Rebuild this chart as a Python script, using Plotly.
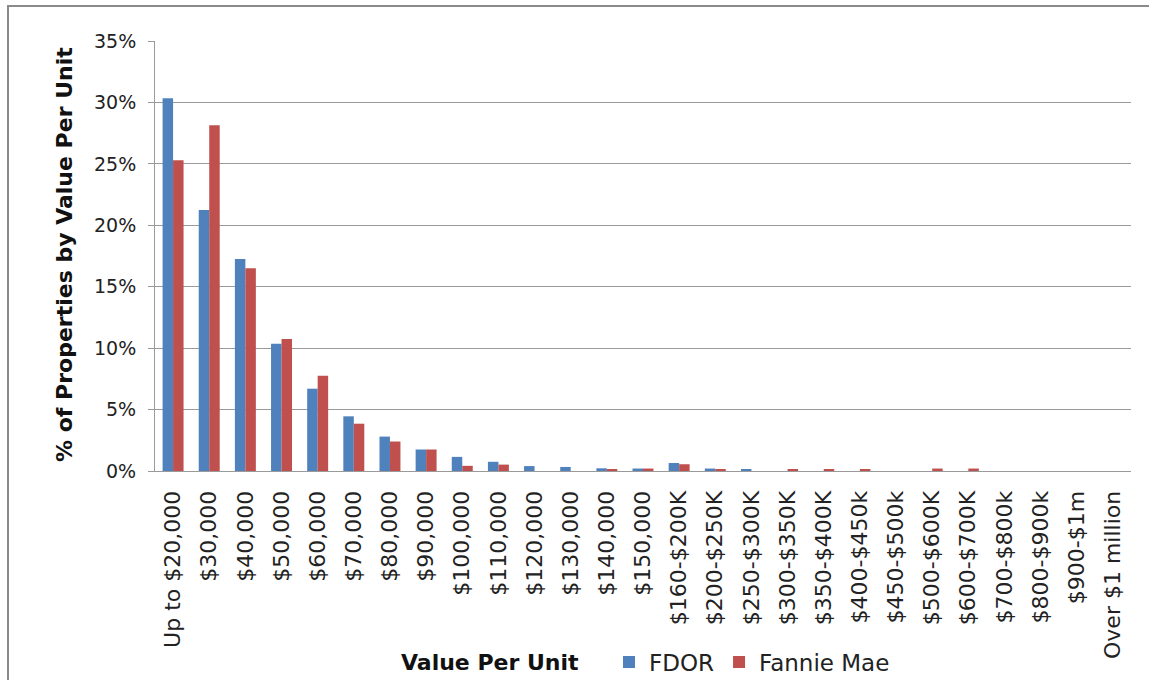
import plotly.graph_objects as go

categories = [
    "Up to $20,000", "$30,000", "$40,000", "$50,000", "$60,000", "$70,000",
    "$80,000", "$90,000", "$100,000", "$110,000", "$120,000", "$130,000",
    "$140,000", "$150,000", "$160-$200K", "$200-$250K", "$250-$300K",
    "$300-$350K", "$350-$400K", "$400-$450k", "$450-$500k", "$500-$600K",
    "$600-$700K", "$700-$800k", "$800-$900k", "$900-$1m", "Over $1 million",
]
fdor = [30.35, 21.25, 17.25, 10.35, 6.7, 4.45, 2.8, 1.75, 1.15, 0.75, 0.4, 0.33,
        0.22, 0.2, 0.65, 0.2, 0.1, 0, 0, 0, 0, 0, 0, 0, 0, 0, 0]
fannie = [25.3, 28.15, 16.5, 10.75, 7.75, 3.85, 2.4, 1.75, 0.42, 0.52, 0, 0,
          0.1, 0.2, 0.55, 0.1, 0, 0.1, 0.1, 0.1, 0, 0.2, 0.2, 0, 0, 0, 0]

C_FDOR = "#4F81BD"; C_FM = "#C0504D"; GRID = "#9A9A9A"
FONT = "DejaVu Sans"

fig = go.Figure()
fig.add_trace(go.Bar(x=categories, y=fdor, name="FDOR", marker=dict(color=C_FDOR, line_width=0)))
fig.add_trace(go.Bar(x=categories, y=fannie, name="Fannie Mae", marker=dict(color=C_FM, line_width=0)))

L, R, T, B = 155, 18, 41, 209
W, H = 1149, 680
pw, ph = W - L - R, H - T - B

def px(x):  # pixel x -> paper
    return (x - L) / pw

def py(y):  # pixel y -> paper
    return (H - B - y) / ph

fig.update_layout(
    width=W, height=H, margin=dict(l=L, r=R, t=T, b=B, autoexpand=False),
    plot_bgcolor="white", paper_bgcolor="white",
    barmode="group", bargap=0.42, bargroupgap=0,
    font=dict(family=FONT, color="#222"),
    legend=dict(orientation="h", x=px(609), y=1 - 662 / H, xref="paper", yref="container",
                xanchor="left", yanchor="middle",
                font=dict(size=23, family=FONT, color="#222"), bgcolor="rgba(0,0,0,0)"),
    annotations=[
        dict(text="<b>% of Properties by Value Per Unit</b>", xref="paper", yref="paper",
             x=px(65), y=py(255), xanchor="center", yanchor="middle", textangle=-90,
             showarrow=False, font=dict(size=22, family=FONT, color="#111")),
        dict(text="<b>Value Per Unit</b>", xref="paper", yref="paper",
             x=px(490), y=py(662), xanchor="center", yanchor="middle", showarrow=False,
             font=dict(size=22, family=FONT, color="#111")),
    ],
    shapes=[dict(type="rect", xref="paper", yref="paper", x0=px(8), x1=px(1200),
                 y0=py(720), y1=py(6), line=dict(color="#8A8A8A", width=2))],
)
fig.update_yaxes(range=[0, 35], dtick=5, ticksuffix="%", showgrid=True, gridcolor=GRID,
                 gridwidth=1, showline=True, linecolor=GRID, linewidth=1, ticks="outside",
                 ticklen=6, tickcolor=GRID, zeroline=False, ticklabelstandoff=8,
                 automargin=False, tickfont=dict(size=19, family=FONT, color="#222"))
fig.update_xaxes(tickangle=-90, showline=True, linecolor=GRID, linewidth=1, ticks="",
                 showgrid=False, automargin=False, ticklabelstandoff=10,
                 tickfont=dict(size=22, family=FONT, color="#222"))

# drop the default page margin so the figure sits at the window's top-left corner
fig.write_html("out.html", config={"displayModeBar": False},
               post_script="document.body.style.margin = '0';")
